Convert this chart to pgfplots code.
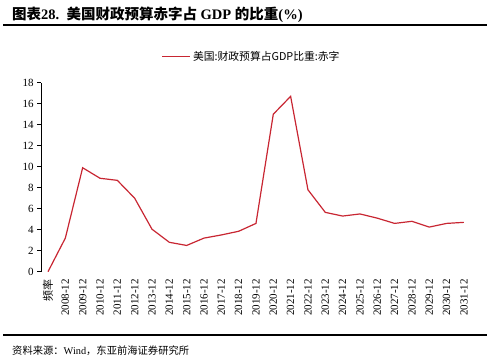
\documentclass[border=0pt]{standalone}
\usepackage{pgfplots}
\pgfplotsset{compat=1.18}
\usepackage{fontspec}
\setmainfont{Liberation Serif}
\newfontfamily\cjk{Noto Sans CJK SC}
\definecolor{linered}{RGB}{200,38,50}
\begin{document}
\begin{tikzpicture}
\useasboundingbox (0pt,0pt) rectangle (490pt,360pt);
\node[anchor=west,inner sep=0pt,font=\bfseries\fontsize{14.5}{14.5}\selectfont] at (12pt,345pt) {{\cjk 图表}28.\ \ {\cjk 美国财政预算赤字占} GDP {\cjk 的比重}(\%)};
\draw[line width=2pt] (3pt,335pt) -- (487pt,335pt);
\draw[line width=2pt] (3pt,25pt) -- (487pt,25pt);
\node[anchor=west,inner sep=0pt,font=\fontsize{10.3}{10.3}\selectfont] at (12pt,9.3pt) {{\cjk 资料来源：}Wind{\cjk ，东亚前海证券研究所}};
\begin{axis}[
  at={(48pt,88.3pt)}, anchor=origin,
  scale only axis, width=429.8pt, height=189pt,
  xmin=-0.4, xmax=24.4, ymin=0, ymax=18,
  axis x line*=bottom, axis y line*=left,
  x axis line style={draw=none},
  y axis line style={line width=0.9pt},
  ytick={0,2,...,18},
  xtick={0,...,24},
  xticklabels={{\cjk 频率},2008-12,2009-12,2010-12,2011-12,2012-12,2013-12,2014-12,2015-12,2016-12,2017-12,2018-12,2019-12,2020-12,2021-12,2022-12,2023-12,2024-12,2025-12,2026-12,2027-12,2028-12,2029-12,2030-12,2031-12},
  x tick label style={rotate=90, anchor=east, font=\fontsize{11}{11}\selectfont},
  y tick label style={font=\fontsize{11}{11}\selectfont},
  major x tick style={draw=none},
  major y tick style={line width=0.9pt, black},
  tick align=outside, major tick length=4pt,
  /pgf/number format/assume math mode=true,
  legend style={draw=none, fill=none, at={(0.49,1.138)}, anchor=center, font=\cjk\fontsize{10.8}{10.8}\selectfont, legend cell align=left},
  legend image code/.code={\draw[#1] (0pt,0pt) -- (28pt,0pt);},
]
\addplot[linered, line width=1.2pt] coordinates {
(0,0) (1,3.2) (2,9.9) (3,8.9) (4,8.7) (5,7.0) (6,4.05) (7,2.8) (8,2.5) (9,3.2) (10,3.5) (11,3.85) (12,4.6) (13,15.0) (14,16.7) (15,7.8) (16,5.65) (17,5.3) (18,5.5) (19,5.1) (20,4.6) (21,4.8) (22,4.25) (23,4.6) (24,4.7)
};
\addlegendentry{美国:财政预算占GDP比重:赤字}
\end{axis}
\end{tikzpicture}
\end{document}
